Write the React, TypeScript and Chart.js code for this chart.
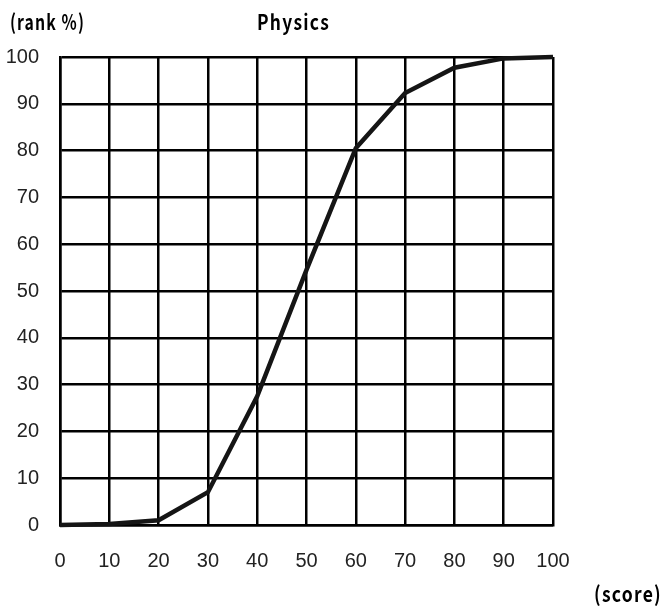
import React, { useEffect, useRef } from "react";
import { Chart, registerables } from "chart.js";

Chart.register(...registerables);

const scores = [0, 10, 20, 30, 40, 50, 60, 70, 80, 90, 100];
const rankPercent = [0, 0.2, 1, 7, 27.5, 54.5, 80.5, 92.3, 97.7, 99.7, 100];
const chartTitle = "Physics";
const yAxisLabel = "(rank %)";
const xAxisLabel = "(score)";

const labelPlugin = {
  id: "labelPlugin",
  afterDraw(chart: any) {
    const ctx = chart.ctx;
    ctx.save();
    ctx.fillStyle = "#000";
    ctx.textBaseline = "alphabetic";
    ctx.textAlign = "left";
    ctx.font = "bold 21px 'Noto Sans CJK JP', 'DejaVu Sans'";
    try {
      (ctx as any).letterSpacing = "1.5px";
    } catch (e) {}
    ctx.fillText(yAxisLabel, 10, 30, 75);
    ctx.fillText(chartTitle, 257, 30, 73);
    ctx.fillText(xAxisLabel, 594, 602, 68);
    ctx.restore();
  },
};

export default function App() {
  const ref = useRef<HTMLCanvasElement | null>(null);
  useEffect(() => {
    if (!ref.current) return;
    const chart = new Chart(ref.current, {
      type: "line",
      data: {
        datasets: [
          {
            data: scores.map((s, i) => ({ x: s, y: rankPercent[i] })),
            borderColor: "#151515",
            borderWidth: 4.5,
            pointRadius: 0,
            tension: 0,
            fill: false,
            clip: false as any,
          },
        ],
      },
      options: {
        animation: false,
        responsive: false,
        maintainAspectRatio: false,
        layout: { padding: { top: 57, right: 112, left: 0, bottom: 0 } },
        plugins: {
          legend: { display: false },
          tooltip: { enabled: false },
          title: { display: false },
        },
        scales: {
          x: {
            type: "linear",
            min: 0,
            max: 100,
            afterFit: (scale: any) => {
              scale.height = 82;
            },
            ticks: {
              stepSize: 10,
              padding: 24,
              color: "#222",
              font: { family: "'Liberation Sans', Arial", size: 20 },
              maxRotation: 0,
            },
            grid: { color: "#000", lineWidth: 2.5, drawTicks: false },
            border: { display: true, color: "#000", width: 2.5 },
          },
          y: {
            type: "linear",
            min: 0,
            max: 100,
            afterFit: (scale: any) => {
              scale.width = 60;
            },
            ticks: {
              stepSize: 10,
              padding: 21,
              color: "#222",
              font: { family: "'Liberation Sans', Arial", size: 20 },
            },
            grid: { color: "#000", lineWidth: 2.5, drawTicks: false },
            border: { display: true, color: "#000", width: 2.5 },
          },
        },
      },
      plugins: [labelPlugin],
    });
    return () => chart.destroy();
  }, []);
  return (
    <div style={{ position: "fixed", left: 0, top: 0, width: 665, height: 607, background: "#fff" }}>
      <canvas ref={ref} width={665} height={607} style={{ display: "block" }} />
    </div>
  );
}
